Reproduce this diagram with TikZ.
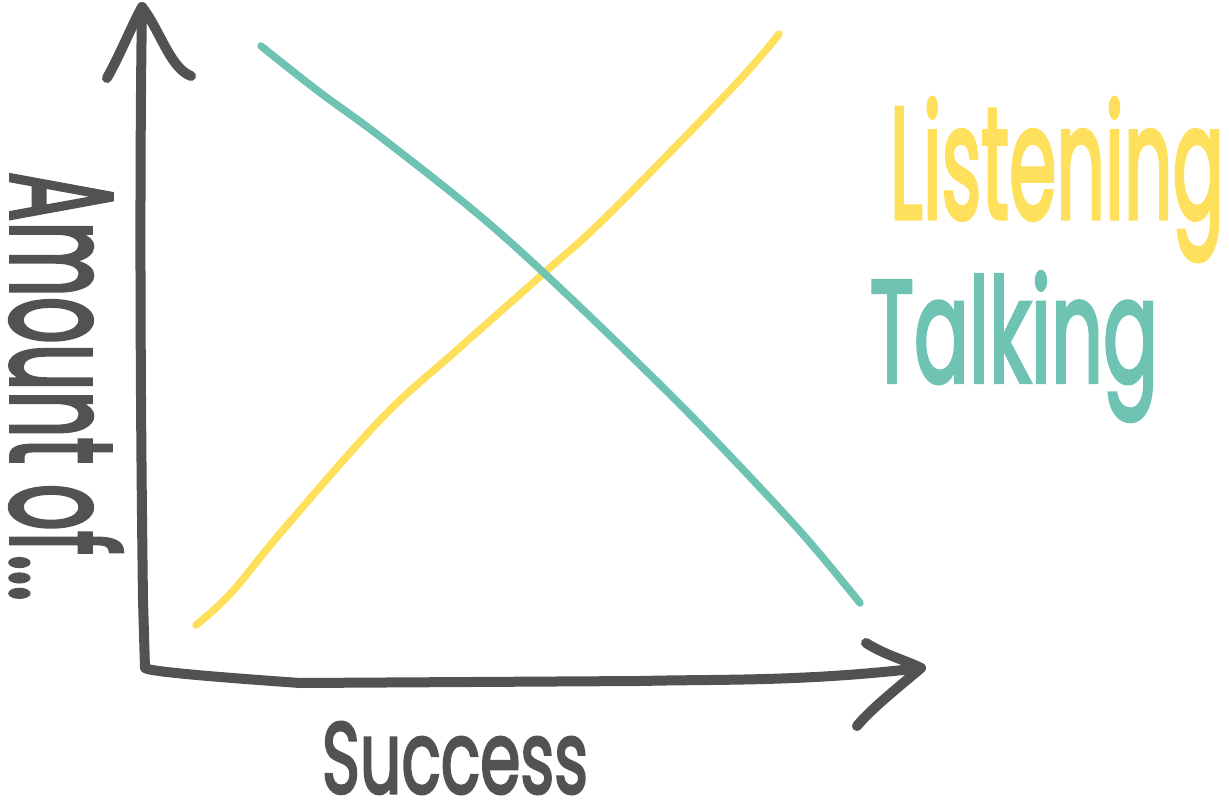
\documentclass[tikz,border=0pt]{standalone}
\usepackage{fontspec}
\setmainfont{Poppins}[BoldFont=Poppins, BoldFeatures={FakeBold=3}]
\usepackage{graphicx}
\definecolor{axisgray}{HTML}{525250}
\definecolor{sunny}{HTML}{FFE05C}
\definecolor{sea}{HTML}{6EC3B3}
\tikzset{
  axisline/.style={draw=axisgray, line width=10pt, line cap=round, line join=round},
  curveline/.style={line width=7.5pt, line cap=round, line join=round},
  label/.style={inner sep=0pt, outer sep=0pt, anchor=center, font=\bfseries},
}
\begin{document}
\begin{tikzpicture}[x=1pt,y=-1pt]
\useasboundingbox (0,0) rectangle (1229,806);
% axes
\coordinate (top) at (142,7);
\coordinate (corner) at (145,668);
\coordinate (tip) at (921,668);
\draw[axisline] (top) .. controls (139,200) and (141,450) .. (143,600) -- (corner)
  .. controls (150,672) and (230,678) .. (300,683) -- (640,681)
  .. controls (720,679) and (800,682) .. (tip);
\draw[axisline] (107,78) .. controls (120,55) and (132,25) .. (top)
  .. controls (160,30) and (170,68) .. (191,76);
\draw[axisline] (866,643) .. controls (885,655) and (905,660) .. (tip)
  .. controls (895,690) and (870,710) .. (857,726);
% curves
\draw[curveline, draw=sunny] plot[smooth, tension=0.6] coordinates
  {(196,625) (231,593) (283,530) (382,418) (457,350) (544,273) (607,216) (733,87) (779,34)};
\draw[curveline, draw=sea] plot[smooth, tension=0.6] coordinates
  {(261,46) (318,91) (378,135) (473,210) (544,273) (635,360) (710,435) (799,530) (860,603)};
% labels
\node[label, text=sunny] (listening) at (1057,179.5) {\resizebox*{334pt}{163pt}{Listening}};
\node[label, text=sea] (talking) at (1014,346.5) {\resizebox*{288pt}{149pt}{Talking}};
\node[label, text=axisgray] (success) at (455,758) {\resizebox*{266pt}{72pt}{Success}};
\node[label, text=axisgray, rotate=-90] (amount) at (66,386.5) {\resizebox*{429pt}{112pt}{Amount of...}};
\end{tikzpicture}
\end{document}
